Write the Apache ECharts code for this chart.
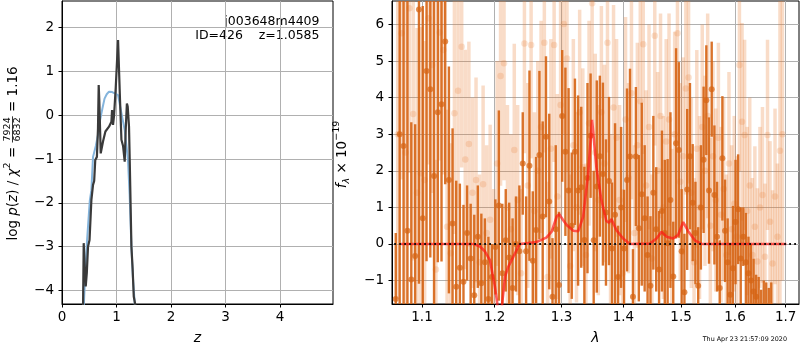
<!DOCTYPE html>
<html><head><meta charset="utf-8">
<script src="https://cdn.jsdelivr.net/npm/echarts@6/dist/echarts.min.js"></script>
<style>html,body{margin:0;padding:0;background:#fff}#c{width:800px;height:350px}</style>
</head><body><div id="c"></div><script>
// ---------- Left panel: log p(z) ----------
const pzBlueZ = [0.398,0.43,0.46,0.51,0.539,0.569,0.62,0.66,0.70,0.74,0.78,0.82,0.862,0.92,0.967,1.028,1.09,1.15,1.21,1.24,1.273,1.30,1.334,1.35];
const pzBlueLog = [-4.4,-3.5,-2.85,-1.95,-1.71,-0.95,-0.7,-0.45,-0.1,0.15,0.38,0.48,0.54,0.53,0.50,0.46,0.05,-0.34,-1.02,-1.8,-3.0,-3.7,-4.29,-4.5];
const pzBlackZ = [0.385,0.398,0.415,0.435,0.455,0.477,0.505,0.539,0.569,0.59,0.61,0.64,0.66,0.673,0.685,0.71,0.752,0.796,0.862,0.906,0.918,0.936,0.955,0.985,1.009,1.028,1.046,1.064,1.09,1.12,1.15,1.168,1.19,1.205,1.229,1.242,1.273,1.295,1.316,1.352,1.37];
const pzBlackLog = [-4.5,-2.92,-2.95,-3.91,-3.6,-3.0,-2.85,-1.93,-1.59,-1.5,-1.02,-0.95,-0.3,0.69,0.3,-0.87,-0.6,-0.37,-0.26,-0.15,0.12,-0.22,0.0,0.62,0.65,1.72,1.68,0.35,-0.56,-0.7,-1.06,-0.34,0.27,0.2,-0.26,-1.02,-3.0,-3.5,-4.14,-4.18,-4.5];
const zTicks = [0,1,2,3,4];
const logpTicks = [-4,-3,-2,-1,0,1,2];
const objName = 'j003648m4409';
const objLine2 = 'ID=426    z=1.0585';
const chiNum = '7924', chiDen = '6832', chiVal = '1.16';

// ---------- Right panel: spectrum ----------
const darkWave = [1.066,1.071,1.076,1.081,1.086,1.091,1.096,1.101,1.106,1.111,
1.116,1.121,1.126,1.131,1.136,1.141,1.146,1.151,1.156,1.161,
1.166,1.171,1.176,1.181,1.186,1.191,1.196,1.201,1.206,1.211,
1.216,1.221,1.226,1.231,1.236,1.241,1.246,1.251,1.256,1.261,
1.266,1.271,1.276,1.281,1.286,1.291,1.296,1.301,1.306,1.311,
1.316,1.321,1.326,1.331,1.336,1.341,1.346,1.351,1.356,1.361,
1.366,1.371,1.376,1.381,1.386,1.391,1.396,1.401,1.406,1.411,
1.416,1.421,1.426,1.431,1.436,1.441,1.446,1.451,1.456,1.461,
1.466,1.471,1.476,1.481,1.486,1.491,1.496,1.501,1.506,1.511,
1.516,1.521,1.526,1.531,1.536,1.541,1.546,1.551,1.556,1.561,
1.566,1.571,1.576,1.581,1.586,1.591,1.596,1.601,1.606,1.611,
1.616,1.621,1.626,1.631,1.636,1.641,1.646,1.651,1.656,1.661,
1.666,1.671];
const darkFlux = [-1.5,3.0,2.68,0.36,-0.97,-0.33,6.41,0.70,4.73,4.23,
1.86,3.6,3.82,5.53,1.75,0.56,-1.17,-0.65,-1.03,0.3,
-0.4,-1.4,0.2,-1.07,-0.5,-1.5,-0.9,-0.08,1.05,-0.8,
0.1,-0.37,-1.2,0.0,-0.2,2.2,-0.2,2.14,-0.46,0.38,
2.43,0.75,2.93,1.16,-1.44,0.4,-1.12,3.5,2.52,1.46,
0.5,2.52,1.46,1.55,0.11,1.8,2.96,0.1,1.57,2.4,
1.91,0.86,1.72,-0.12,0.8,-0.9,1.0,-0.12,1.75,2.39,
-1.44,2.39,0.43,1.36,0.70,-0.3,-1.14,1.4,0.4,-0.7,
0.9,0.3,0.02,1.2,-0.89,2.75,2.57,-0.2,-1.32,1.49,
2.4,1.13,0.3,-1.14,1.0,2.3,3.93,1.46,4.23,1.34,
0.2,-1.2,2.34,0.36,-0.5,-1.39,-0.66,0.6,0.95,-0.4,
0.2,-0.5,-0.8,-1.0,-1.3,-1.44,-1.8,-2.1,-1.9,-1.9,
-2.2,-1.9];
const darkErr = [1.8,6.0,5.6,6.5,4.3,3.6,7.5,5.8,5.2,4.6,
5.0,4.1,4.3,3.9,3.1,2.6,2.9,2.3,2.1,1.3,
1.5,2.2,1.4,1.9,1.2,1.7,0.9,1.3,2.6,1.9,
1.4,1.5,1.9,1.3,1.8,1.4,1.5,2.6,1.9,2.0,
2.3,2.6,2.2,2.4,1.6,2.3,2.0,1.8,2.3,2.8,
2.0,2.0,2.6,2.2,2.0,2.6,1.7,1.9,2.9,2.2,
2.5,2.0,2.3,1.8,2.5,1.4,2.2,1.6,2.5,2.4,
1.3,1.9,2.0,2.5,2.0,1.6,1.9,2.1,1.7,1.6,
2.2,2.0,2.3,2.4,1.5,2.6,2.4,1.7,1.6,2.2,
2.0,1.6,1.4,1.6,1.7,2.0,1.5,2.0,1.3,1.9,
1.5,1.3,1.7,1.4,1.2,1.4,1.7,1.7,1.5,1.4,
0.8,1.35,1.0,1.0,0.9,0.6,0.9,0.85,0.9,0.85,
1.0,0.85];
const lightWave = [1.0685,1.0735,1.0785,1.0835,1.0885,1.0935,1.0985,1.1035,1.1085,1.1135,
1.1185,1.1235,1.1285,1.1335,1.1385,1.1435,1.1485,1.1535,1.1585,1.1635,
1.1685,1.1735,1.1785,1.1835,1.1885,1.1935,1.1985,1.2035,1.2085,1.2135,
1.2185,1.2235,1.2285,1.2335,1.2385,1.2435,1.2485,1.2535,1.2585,1.2635,
1.2685,1.2735,1.2785,1.2835,1.2885,1.2935,1.2985,1.3035,1.3085,1.3135,
1.3185,1.3235,1.3285,1.3335,1.3385,1.3435,1.3485,1.3535,1.3585,1.3635,
1.3685,1.3735,1.3785,1.3835,1.3885,1.3935,1.3985,1.4035,1.4085,1.4135,
1.4185,1.4235,1.4285,1.4335,1.4385,1.4435,1.4485,1.4535,1.4585,1.4635,
1.4685,1.4735,1.4785,1.4835,1.4885,1.4935,1.4985,1.5035,1.5085,1.5135,
1.5185,1.5235,1.5285,1.5335,1.5385,1.5435,1.5485,1.5535,1.5585,1.5635,
1.5685,1.5735,1.5785,1.5835,1.5885,1.5935,1.5985,1.6035,1.6085,1.6135,
1.6185,1.6235,1.6285,1.6335,1.6385,1.6435,1.6485,1.6535,1.6585,1.6635,
1.6685,1.6735,1.6785,1.6835,1.6885,1.6935];
const lightFlux = [3.0,5.76,2.5,6.44,3.55,1.4,1.93,1.75,6.17,4.89,
-0.7,5.78,5.3,0.47,-0.25,3.57,4.19,5.39,2.31,2.73,
1.4,1.75,-0.5,1.63,0.3,0.66,-1.0,2.2,4.59,4.94,
1.0,0.4,2.57,1.2,-0.8,5.48,1.6,5.44,0.9,2.0,
3.2,5.5,-0.9,2.6,5.44,1.3,3.8,6.01,5.07,-0.6,
2.7,1.0,3.6,2.1,-0.3,3.3,6.58,2.5,1.2,3.6,
2.2,5.5,0.6,3.73,2.9,1.2,-0.8,3.4,1.8,4.12,
0.3,2.7,3.9,5.46,1.6,3.2,-0.4,5.69,2.0,3.5,
1.0,2.8,3.4,0.2,3.0,5.76,1.7,2.4,4.25,4.55,
1.4,-0.5,2.6,1.0,3.2,2.0,3.5,0.5,2.4,1.2,
2.9,0.8,1.5,-0.3,2.2,0.4,1.1,0.2,4.89,3.34,
2.98,0.9,1.6,-0.3,0.47,-0.48,1.0,1.34,-0.35,2.98,
0.61,-0.53,1.3,0.2,2.55,3.0];
const lightErr = [4.5,4.0,5.0,4.5,4.0,4.5,4.0,3.8,4.0,3.5,
3.0,3.5,3.4,3.2,3.0,3.3,3.2,3.3,3.0,2.8,
2.6,2.8,2.4,2.7,2.4,2.6,2.5,2.8,3.0,3.2,
2.8,2.6,2.9,2.6,2.3,3.0,2.8,3.1,2.7,3.0,
2.9,3.0,2.6,3.0,3.2,2.8,3.0,3.0,3.1,2.5,
2.9,2.6,2.8,2.7,2.5,2.8,3.2,2.7,2.6,2.9,
2.7,3.0,2.4,2.8,2.7,2.6,2.3,2.8,2.6,2.9,
2.4,2.8,2.9,3.0,2.6,2.8,2.3,3.0,2.7,2.8,
2.5,2.8,2.9,2.4,2.8,3.0,2.7,2.7,2.9,2.9,
2.6,2.3,2.7,2.5,2.8,2.6,2.8,2.4,2.6,2.5,
2.6,2.4,2.5,2.2,2.5,2.3,2.4,2.2,2.9,2.7,
2.6,2.3,2.4,2.1,2.2,2.0,2.2,2.4,2.0,2.6,
2.2,2.0,2.4,2.0,4.5,4.0];
const modelWave = [1.0727,1.1706,1.1790,1.1860,1.1932,1.2003,1.2036,1.2065,1.2101,1.2150,1.2198,1.2271,1.2344,1.2369,1.2613,1.2700,1.2770,1.2847,1.2925,1.2965,1.3026,1.3080,1.3184,1.3263,1.3340,1.3420,1.3484,1.3554,1.3635,1.3716,1.3760,1.3799,1.3882,1.3995,1.4107,1.4449,1.4565,1.4653,1.4741,1.4859,1.4948,1.5038,1.5128,1.5249,1.5370,1.7015];
const modelFlux = [0,0,-0.07,-0.2,-0.44,-1.17,-1.6,-2.6,-1.75,-0.89,-0.62,-0.35,-0.07,0,0.05,0.12,0.18,0.34,0.75,0.81,0.65,0.52,0.36,0.35,0.74,1.9,3.39,2.1,1.2,0.63,0.58,0.68,0.38,0.15,0.0,0.01,0.15,0.33,0.2,0.15,0.25,0.6,0.35,0.1,0.0,0.0];
const zeroWave = [1.064, 1.722];
const zeroFlux = [0, 0];
const lamTicks = [1.1,1.2,1.3,1.4,1.5,1.6,1.7];
const fluxTicks = [-1,0,1,2,3,4,5,6];
const stamp = 'Thu Apr 23 21:57:09 2020';

// ---------- build ----------
const FF = '"DejaVu Sans", sans-serif';
const lg = Math.log10;
const fmtMinus = v => String(v).replace('-', '\u2212');
const zip = (a, b) => a.map((v, i) => [v, b[i]]);
const lightData = lightWave.map((w, i) => [lg(w), lightFlux[i], lightErr[i]]);
const darkData = darkWave.map((w, i) => [lg(w), darkFlux[i], darkErr[i]]);
const ORANGE_D = 'rgba(214,100,20,0.9)';
const ORANGE_L = 'rgba(232,124,52,0.27)';

function errRender(color, width) {
  return function (params, api) {
    const x = api.value(0), y = api.value(1), e = api.value(2);
    const a = api.coord([x, y - e]), b = api.coord([x, y + e]);
    return { type: 'line', shape: { x1: a[0], y1: a[1], x2: b[0], y2: b[1] },
      style: { stroke: color, lineWidth: width } };
  };
}

const axisCommon = {
  axisLine: { show: true, onZero: false, lineStyle: { color: '#000', width: 1 } },
  axisTick: { show: true, inside: false, length: 3.5, lineStyle: { color: '#000', width: 1 } },
  splitLine: { show: true, lineStyle: { color: '#b0b0b0', width: 1 } },
};
function xAx(extra) { return Object.assign({}, JSON.parse(JSON.stringify(axisCommon)), extra); }

// left y-label (rotated, with fraction)
function buildLeftYLabel() {
  const ctx = document.createElement('canvas').getContext('2d');
  const mk = (sz, it) => (it ? 'italic ' : '') + sz + 'px ' + FF;
  const pieces = [['log ', 13.5, false, 0], ['p', 13.5, true, 0], ['(', 13.5, false, 0], ['z', 13.5, true, 0],
    [') / ', 13.5, false, 0], ['\u03c7', 13.5, true, 0], ['2', 9.5, false, -5], [' = ', 13.5, false, 0]];
  let x = 0; const kids = [];
  const txt = (t, font, px, py) => ({ type: 'text', x: px, y: py,
    style: { text: t, font: font, fill: '#000', align: 'left', verticalAlign: 'middle', textAlign: 'left', textVerticalAlign: 'middle' } });
  pieces.forEach(p => { const f = mk(p[1], p[2]); ctx.font = f; kids.push(txt(p[0], f, x, p[3])); x += ctx.measureText(p[0]).width; });
  const ff = mk(9.5, false); ctx.font = ff;
  const fw = Math.max(ctx.measureText(chiNum).width, ctx.measureText(chiDen).width);
  kids.push(txt(chiNum, ff, x + 1, -5.5));
  kids.push(txt(chiDen, ff, x + 1, 5.0));
  kids.push({ type: 'line', shape: { x1: x, y1: -0.5, x2: x + fw + 2, y2: -0.5 }, style: { stroke: '#000', lineWidth: 0.8 } });
  x += fw + 2;
  const tf = mk(13.5, false); ctx.font = tf;
  kids.push(txt(' = ' + chiVal, tf, x, 0)); x += ctx.measureText(' = ' + chiVal).width;
  const half = x / 2;
  kids.forEach(k => { if (k.type === 'text') k.x -= half; else { k.shape.x1 -= half; k.shape.x2 -= half; } });
  return { type: 'group', x: 13, y: 153.5, rotation: Math.PI / 2, children: kids };
}

const option = {
  animation: false,
  backgroundColor: '#fff',
  textStyle: { fontFamily: FF },
  grid: [
    { left: 62, top: 1, width: 271, height: 303, show: true, borderColor: '#000', borderWidth: 1, backgroundColor: 'transparent', containLabel: false, outerBoundsMode: 'none' },
    { left: 392, top: 1, width: 407, height: 303, show: true, borderColor: '#000', borderWidth: 1, backgroundColor: 'transparent', containLabel: false, outerBoundsMode: 'none' }
  ],
  xAxis: [
    xAx({ gridIndex: 0, type: 'value', min: 0, max: 4.97,
      axisLabel: { customValues: zTicks, color: '#000', fontSize: 13.5, margin: 6, fontFamily: FF, formatter: fmtMinus },
      axisTick: Object.assign({}, axisCommon.axisTick, { customValues: zTicks }),
      name: 'z', nameLocation: 'middle', nameGap: 27, nameTextStyle: { fontStyle: 'italic', fontSize: 14, color: '#000', fontFamily: FF } }),
    xAx({ gridIndex: 1, type: 'value', min: lg(1.0612), max: lg(1.7274),
      axisLabel: { customValues: lamTicks.map(lg), color: '#000', fontSize: 13.5, margin: 6, fontFamily: FF,
        formatter: v => Math.pow(10, v).toFixed(1) },
      axisTick: Object.assign({}, axisCommon.axisTick, { customValues: lamTicks.map(lg) }),
      name: '\u03bb', nameLocation: 'middle', nameGap: 27, nameTextStyle: { fontStyle: 'italic', fontSize: 14, color: '#000', fontFamily: FF } })
  ],
  yAxis: [
    xAx({ gridIndex: 0, type: 'value', min: -4.31, max: 2.61,
      axisLabel: { customValues: logpTicks, color: '#000', fontSize: 13.5, margin: 8, fontFamily: FF, formatter: fmtMinus },
      axisTick: Object.assign({}, axisCommon.axisTick, { customValues: logpTicks }) }),
    xAx({ gridIndex: 1, type: 'value', min: -1.64, max: 6.64,
      axisLabel: { customValues: fluxTicks, color: '#000', fontSize: 13.5, margin: 8, fontFamily: FF, formatter: fmtMinus },
      axisTick: Object.assign({}, axisCommon.axisTick, { customValues: fluxTicks }) })
  ],
  series: [
    { type: 'line', xAxisIndex: 0, yAxisIndex: 0, data: zip(pzBlueZ, pzBlueLog), showSymbol: false, clip: true,
      lineStyle: { color: '#84b4dc', width: 2 }, z: 3 },
    { type: 'line', xAxisIndex: 0, yAxisIndex: 0, data: zip(pzBlackZ, pzBlackLog), showSymbol: false, clip: true,
      lineStyle: { color: '#3a3a3a', width: 2.2 }, z: 4 },
    { type: 'custom', xAxisIndex: 1, yAxisIndex: 1, data: lightData, renderItem: errRender(ORANGE_L, 3.5), clip: true, encode: { x: 0, y: 1 }, z: 2 },
    { type: 'scatter', xAxisIndex: 1, yAxisIndex: 1, data: lightData.map(d => [d[0], d[1]]), symbolSize: 6.5, clip: true,
      itemStyle: { color: ORANGE_L }, z: 2 },
    { type: 'custom', xAxisIndex: 1, yAxisIndex: 1, data: darkData, renderItem: errRender(ORANGE_D, 2.4), clip: true, encode: { x: 0, y: 1 }, z: 3 },
    { type: 'scatter', xAxisIndex: 1, yAxisIndex: 1, data: darkData.map(d => [d[0], d[1]]), symbolSize: 6, clip: true,
      itemStyle: { color: ORANGE_D }, z: 3 },
    { type: 'line', xAxisIndex: 1, yAxisIndex: 1, data: zip(modelWave.map(lg), modelFlux), showSymbol: false, clip: true,
      lineStyle: { color: 'rgba(255,20,20,0.68)', width: 2.6 }, z: 4 },
    { type: 'line', xAxisIndex: 1, yAxisIndex: 1, data: zip(zeroWave.map(lg), zeroFlux), showSymbol: false, clip: true,
      lineStyle: { color: '#111', width: 1.8, type: [1.8, 3.2] }, z: 5 }
  ],
  graphic: [
    buildLeftYLabel(),
    { type: 'text', x: 342, y: 154.5, rotation: Math.PI / 2,
      style: { text: '{i|f}{sub|\u03bb} \u00d7 10{sup|\u221219}', fill: '#000', font: '13.5px ' + FF,
        align: 'center', verticalAlign: 'middle', textAlign: 'center', textVerticalAlign: 'middle',
        rich: { i: { fontStyle: 'italic', fontSize: 13.5, fontFamily: FF, lineHeight: 20 },
          sub: { fontStyle: 'italic', fontSize: 9.5, fontFamily: FF, verticalAlign: 'bottom', lineHeight: 20 },
          sup: { fontSize: 9.5, fontFamily: FF, verticalAlign: 'top', lineHeight: 20 } } } },
    { type: 'text', x: 319.5, y: 14,
      style: { text: objName + '\n' + objLine2, fill: '#000', font: '12.5px ' + FF, lineHeight: 14.5,
        align: 'right', verticalAlign: 'top', textAlign: 'right', textVerticalAlign: 'top' } },
    { type: 'text', x: 787, y: 339,
      style: { text: stamp, fill: '#000', font: '6.4px ' + FF,
        align: 'right', verticalAlign: 'middle', textAlign: 'right', textVerticalAlign: 'middle' } }
  ]
};
const chart = echarts.init(document.getElementById('c'), null, { renderer: 'canvas' });
chart.setOption(option);
</script></body></html>
